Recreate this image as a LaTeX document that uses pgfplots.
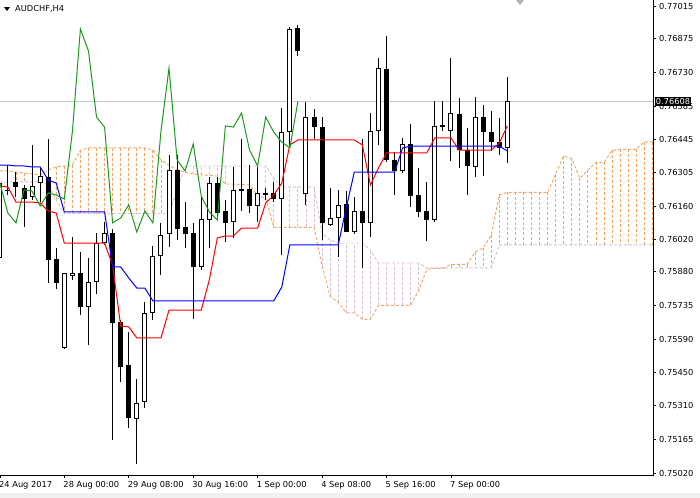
\documentclass[border=0pt]{standalone}
\usepackage{fontspec}
\setmainfont{DejaVu Sans}
\usepackage{pgfplots}
\usepackage{pgfplotstable}
\pgfplotsset{compat=1.18}
\definecolor{sandy}{RGB}{244,164,96}
\definecolor{thist}{RGB}{216,191,216}
\definecolor{chik}{RGB}{30,150,30}

% candles: bar index, open, high, low, close
\pgfplotstableread{
i O H L C
0 0.75939 0.76281 0.75922 0.76259
1 0.76230 0.76336 0.76208 0.76225
2 0.76264 0.76306 0.76200 0.76242
3 0.76238 0.76251 0.76072 0.76191
4 0.76200 0.76422 0.76187 0.76247
5 0.76259 0.76323 0.76178 0.76289
6 0.76285 0.76447 0.75833 0.75931
7 0.75935 0.75982 0.75807 0.75833
8 0.75555 0.75875 0.75551 0.75875
9 0.75862 0.76029 0.75845 0.75875
10 0.75875 0.75965 0.75696 0.75730
11 0.75730 0.75939 0.75568 0.75837
12 0.75837 0.76046 0.75786 0.76003
13 0.76003 0.76093 0.75995 0.76046
14 0.76046 0.76063 0.75162 0.75662
15 0.75666 0.75675 0.75410 0.75474
16 0.75482 0.75623 0.75214 0.75256
17 0.75252 0.75423 0.75060 0.75320
18 0.75325 0.75751 0.75299 0.75704
19 0.75704 0.75990 0.75675 0.75948
20 0.75948 0.76089 0.75867 0.76037
21 0.76042 0.76379 0.75986 0.76315
22 0.76315 0.76379 0.76016 0.76063
23 0.76072 0.76178 0.75982 0.76042
24 0.76046 0.76089 0.75679 0.75901
25 0.75901 0.76200 0.75888 0.76106
26 0.76101 0.76285 0.75982 0.76259
27 0.76259 0.76285 0.76101 0.76131
28 0.76140 0.76187 0.76008 0.76089
29 0.76093 0.76328 0.76025 0.76230
30 0.76234 0.76447 0.76140 0.76225
31 0.76234 0.76336 0.76131 0.76161
32 0.76161 0.76328 0.76093 0.76217
33 0.76217 0.76238 0.76187 0.76208
34 0.76217 0.76264 0.76178 0.76191
35 0.76191 0.76580 0.75952 0.76477
36 0.76477 0.76925 0.76422 0.76917
37 0.76921 0.76934 0.76802 0.76823
38 0.76212 0.76605 0.76165 0.76541
39 0.76541 0.76575 0.76447 0.76498
40 0.76498 0.76541 0.76016 0.76089
41 0.76080 0.76238 0.76076 0.76110
42 0.76110 0.76230 0.75944 0.76166
43 0.76170 0.76225 0.76050 0.76050
44 0.76050 0.76200 0.76042 0.76140
45 0.76140 0.76447 0.75897 0.76089
46 0.76089 0.76558 0.76029 0.76481
47 0.76481 0.76793 0.76422 0.76750
48 0.76746 0.76887 0.76349 0.76358
49 0.76358 0.76392 0.76208 0.76311
50 0.76311 0.76452 0.76302 0.76426
51 0.76426 0.76511 0.76157 0.76204
52 0.76208 0.76323 0.76114 0.76136
53 0.76140 0.76264 0.76012 0.76101
54 0.76101 0.76609 0.76093 0.76503
55 0.76507 0.76609 0.76481 0.76498
56 0.76481 0.76793 0.76353 0.76558
57 0.76554 0.76622 0.76323 0.76400
58 0.76400 0.76494 0.76210 0.76332
59 0.76328 0.76627 0.76285 0.76541
60 0.76541 0.76592 0.76289 0.76477
61 0.76477 0.76567 0.76396 0.76434
62 0.76434 0.76537 0.76379 0.76409
63 0.76409 0.76712 0.76345 0.76608
}\candles

% Tenkan-sen (T) and Kijun-sen (K)
\pgfplotstableread{
i T K
0 0.76247 0.76336
1 0.76242 0.76336
2 0.76178 0.76332
3 0.76178 0.76332
4 0.76178 0.76328
5 0.76174 0.76328
6 0.76140 0.76272
7 0.76131 0.76259
8 0.76003 0.76136
9 0.76003 0.76136
10 0.76003 0.76136
11 0.76003 0.76136
12 0.76003 0.76136
13 0.76003 0.76136
14 0.75909 0.75901
15 0.75649 0.75901
16 0.75645 0.75854
17 0.75598 0.75811
18 0.75598 0.75811
19 0.75598 0.75756
20 0.75598 0.75756
21 0.75717 0.75756
22 0.75717 0.75756
23 0.75717 0.75756
24 0.75717 0.75756
25 0.75717 0.75756
26 0.75845 0.75756
27 0.76025 0.75756
28 0.76033 0.75756
29 0.76033 0.75756
30 0.76067 0.75756
31 0.76067 0.75756
32 0.76067 0.75756
33 0.76174 0.75756
34 0.76208 0.75756
35 0.76259 0.75815
36 0.76422 0.75995
37 0.76443 0.75995
38 0.76443 0.75995
39 0.76443 0.75995
40 0.76443 0.75995
41 0.76443 0.75995
42 0.76443 0.75995
43 0.76443 0.76153
44 0.76443 0.76306
45 0.76422 0.76306
46 0.76251 0.76306
47 0.76323 0.76306
48 0.76388 0.76306
49 0.76388 0.76306
50 0.76388 0.76409
51 0.76388 0.76417
52 0.76388 0.76417
53 0.76388 0.76417
54 0.76452 0.76417
55 0.76452 0.76417
56 0.76452 0.76417
57 0.76400 0.76417
58 0.76400 0.76417
59 0.76400 0.76417
60 0.76400 0.76417
61 0.76400 0.76417
62 0.76430 0.76417
63 0.76503 0.76396
}\lines

% Chikou span
\pgfplotstableread{
i G
0 0.76259
1 0.76131
2 0.76089
3 0.76230
4 0.76225
5 0.76161
6 0.76217
7 0.76208
8 0.76191
9 0.76477
10 0.76917
11 0.76823
12 0.76541
13 0.76498
14 0.76089
15 0.76110
16 0.76166
17 0.76050
18 0.76140
19 0.76089
20 0.76481
21 0.76750
22 0.76358
23 0.76311
24 0.76426
25 0.76204
26 0.76136
27 0.76101
28 0.76503
29 0.76498
30 0.76558
31 0.76400
32 0.76332
33 0.76541
34 0.76477
35 0.76434
36 0.76409
37 0.76608
}\chikou

% Senkou span A and B
\pgfplotstableread{
i A B
0 0.76311 0.76264
1 0.76311 0.76264
2 0.76306 0.76264
3 0.76302 0.76264
4 0.76298 0.76264
5 0.76294 0.76264
6 0.76315 0.76251
7 0.76328 0.76187
8 0.76332 0.76129
9 0.76336 0.76129
10 0.76400 0.76129
11 0.76409 0.76129
12 0.76409 0.76129
13 0.76409 0.76129
14 0.76409 0.76129
15 0.76409 0.76129
16 0.76409 0.76129
17 0.76409 0.76129
18 0.76409 0.76129
19 0.76400 0.76129
20 0.76358 0.76129
21 0.76336 0.76129
22 0.76315 0.76230
23 0.76306 0.76332
24 0.76298 0.76332
25 0.76294 0.76332
26 0.76292 0.76332
27 0.76289 0.76332
28 0.76255 0.76332
29 0.76255 0.76332
30 0.76253 0.76332
31 0.76251 0.76332
32 0.76206 0.76332
33 0.76195 0.76332
34 0.76070 0.76281
35 0.76070 0.76242
36 0.76070 0.76242
37 0.76070 0.76242
38 0.76070 0.76242
39 0.76070 0.76242
40 0.75905 0.76046
41 0.75775 0.76016
42 0.75750 0.76003
43 0.75705 0.76003
44 0.75705 0.76003
45 0.75677 0.76003
46 0.75677 0.75973
47 0.75737 0.75918
48 0.75737 0.75918
49 0.75737 0.75918
50 0.75737 0.75918
51 0.75737 0.75918
52 0.75801 0.75918
53 0.75891 0.75897
54 0.75895 0.75897
55 0.75895 0.75897
56 0.75912 0.75897
57 0.75912 0.75897
58 0.75912 0.75897
59 0.75965 0.75897
60 0.75982 0.75897
61 0.76037 0.75897
62 0.76209 0.75995
63 0.76219 0.75995
64 0.76219 0.75995
65 0.76219 0.75995
66 0.76219 0.75995
67 0.76219 0.75995
68 0.76219 0.75995
69 0.76298 0.75995
70 0.76375 0.75995
71 0.76364 0.75995
72 0.76279 0.75995
73 0.76315 0.75995
74 0.76347 0.75995
75 0.76347 0.75995
76 0.76399 0.75995
77 0.76403 0.75995
78 0.76403 0.75995
79 0.76403 0.75995
80 0.76435 0.75995
81 0.76435 0.75995
82 0.76435 0.75995
}\cloud

\begin{document}
\begin{tikzpicture}
\useasboundingbox (0,0) rectangle (700bp,-498bp);
\fill[black!6] (0,-493bp) rectangle (700bp,-498bp);
\begin{axis}[
  at={(0,0)}, anchor=north west,
  scale only axis, width=653bp, height=475bp,
  xmin=0.019, xmax=81.08, ymin=0.750127, ymax=0.770406,
  axis line style={black, line width=1bp},
  tick align=outside, major tick length=3bp,
  tick style={black, line width=0.8bp},
  xtick pos=bottom, ytick pos=right, yticklabel pos=right,
  scaled y ticks=false,
  xtick={0.02,8,16,24,32,40,48,56},
  xticklabels={24 Aug 2017,28 Aug 00:00,29 Aug 08:00,30 Aug 16:00,1 Sep 00:00,4 Sep 08:00,5 Sep 16:00,7 Sep 00:00},
  ytick={0.75020,0.75165,0.75310,0.75450,0.75590,0.75735,0.75880,0.76020,0.76160,0.76305,0.76445,0.76585,0.76730,0.76875,0.77015},
  yticklabels={0.75020,0.75165,0.75310,0.75450,0.75590,0.75735,0.75880,0.76020,0.76160,0.76305,0.76445,0.76585,0.76730,0.76875,0.77015},
  ticklabel style={font=\fontsize{8.3}{10}\selectfont},
  xticklabel style={anchor=north west, inner sep=0pt, xshift=-1bp, yshift=-3bp},
  yticklabel style={anchor=west, inner sep=0pt, xshift=3bp},
]
% bid line
\addplot [black!22, line width=0.8bp] coordinates {(-1,0.76608) (90,0.76608)};
% cloud hatch
\addplot [sandy, line width=0.9bp, dash pattern=on 3bp off 2bp,
  quiver={u=0, v=\thisrow{B}-\thisrow{A}},
  y filter/.expression={\thisrow{A}>\thisrow{B} ? y : nan}] table [x=i, y=A] {\cloud};
\addplot [thist, line width=0.9bp, dash pattern=on 3bp off 2bp,
  quiver={u=0, v=\thisrow{B}-\thisrow{A}},
  y filter/.expression={\thisrow{A}>\thisrow{B} ? nan : y}] table [x=i, y=A] {\cloud};
\addplot [sandy, line width=0.9bp, dash pattern=on 3bp off 2bp] table [x=i, y=A] {\cloud};
\addplot [thist, line width=0.9bp, dash pattern=on 3bp off 2bp] table [x=i, y=B] {\cloud};
% candles
\addplot [black, line width=1bp, quiver={u=0, v=\thisrow{H}-\thisrow{L}}] table [x=i, y=L] {\candles};
\addplot [black, line width=5bp, quiver={u=0, v=\thisrow{C}-\thisrow{O}}] table [x=i, y=O] {\candles};
\addplot [white, line width=3bp, shorten <=1bp, shorten >=1bp,
  quiver={u=0, v=\thisrow{C}-\thisrow{O}},
  y filter/.expression={\thisrow{C}>\thisrow{O} ? y : nan}] table [x=i, y=O] {\candles};
% Ichimoku lines
\addplot [red, line width=1bp] table [x=i, y=T] {\lines};
\addplot [blue, line width=1bp] table [x=i, y=K] {\lines};
\addplot [chik, line width=1bp] table [x=i, y=G] {\chikou};
\coordinate (bid) at (axis cs:81.08,0.76608);
\end{axis}
\node[anchor=west, fill=black, text=white, inner sep=1.2bp, font=\fontsize{8.3}{10}\selectfont] at ([xshift=1.5bp]bid) {0.76608};
\fill (4bp,-7bp) -- (10bp,-7bp) -- (7bp,-11bp) -- cycle;
\node[anchor=west, inner sep=0pt, font=\fontsize{8.3}{10}\selectfont] at (15bp,-9bp) {AUDCHF,H4};
\fill[black!30] (516bp,0) -- (524bp,0) -- (520bp,-5bp) -- cycle;
\end{tikzpicture}
\end{document}
